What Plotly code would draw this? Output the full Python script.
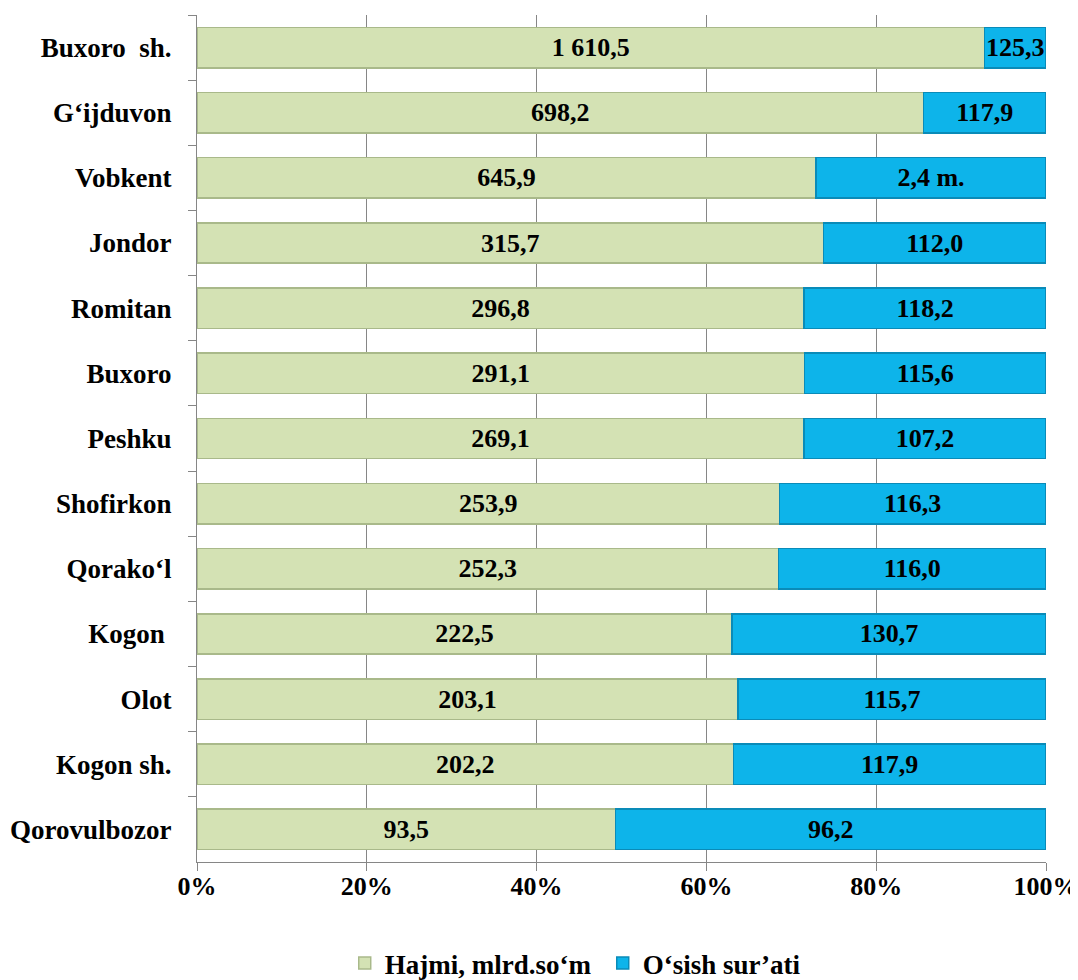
import plotly.graph_objects as go

categories = ["Buxoro  sh.", "G‘ijduvon", "Vobkent", "Jondor", "Romitan", "Buxoro",
              "Peshku", "Shofirkon", "Qorako‘l", "Kogon ", "Olot", "Kogon sh.", "Qorovulbozor"]
hajmi = [1610.5, 698.2, 645.9, 315.7, 296.8, 291.1, 269.1, 253.9, 252.3, 222.5, 203.1, 202.2, 93.5]
osish = [125.3, 117.9, 240.0, 112.0, 118.2, 115.6, 107.2, 116.3, 116.0, 130.7, 115.7, 117.9, 96.2]
hajmi_labels = ["1 610,5", "698,2", "645,9", "315,7", "296,8", "291,1", "269,1", "253,9",
                "252,3", "222,5", "203,1", "202,2", "93,5"]
osish_labels = ["125,3", "117,9", "2,4 m.", "112,0", "118,2", "115,6", "107,2", "116,3",
                "116,0", "130,7", "115,7", "117,9", "96,2"]
series_names = ["Hajmi, mlrd.so‘m", "O‘sish sur’ati"]
x_ticks = [0, 20, 40, 60, 80, 100]

FONT = "Liberation Serif"


def bf(size):
    return dict(family=FONT, size=size, color="black", weight="bold")


fig = go.Figure()
fig.add_trace(go.Bar(
    y=categories, x=hajmi, orientation="h", name=series_names[0],
    text=hajmi_labels, textposition="inside", insidetextanchor="middle",
    constraintext="none", textfont=bf(26), textangle=0,
    marker=dict(color="#d4e2b4", line=dict(color="#a9b98a", width=1.5)),
    hoverinfo="skip",
))
fig.add_trace(go.Bar(
    y=categories, x=osish, orientation="h", name=series_names[1],
    text=osish_labels, textposition="inside", insidetextanchor="middle",
    constraintext="none", textfont=bf(26), textangle=0,
    marker=dict(color="#0db4ea", line=dict(color="#0a8bb8", width=1.5)),
    hoverinfo="skip",
))

fig.update_layout(
    barmode="stack", barnorm="percent", bargap=0.38,
    width=1078, height=980,
    margin=dict(l=189, r=40, t=7, b=126),
    paper_bgcolor="white", plot_bgcolor="white",
    font=bf(26),
    uniformtext=dict(mode=False),
    legend=dict(orientation="h", x=0.174, xanchor="left",
                yref="container", y=0.0, yanchor="bottom",
                font=bf(27), traceorder="normal", entrywidth=213, entrywidthmode="pixels"),
    xaxis=dict(range=[0, 100], tickvals=x_ticks, ticktext=[f"{v}%" for v in x_ticks],
               showgrid=True, gridcolor="#868686", gridwidth=1.2,
               showline=True, linecolor="#868686", linewidth=1.2,
               ticks="outside", ticklen=8, tickcolor="#868686", ticklabelstandoff=-7,
               tickfont=bf(26), zeroline=False, automargin=False),
    yaxis=dict(autorange="reversed", showline=True, linecolor="#868686", linewidth=1.2,
               ticks="outside", ticklen=8, tickcolor="#868686", tickson="boundaries",
               tickfont=bf(27), ticklabelstandoff=19,
               showgrid=False, automargin=False),
)

fig.write_html("out.html")
